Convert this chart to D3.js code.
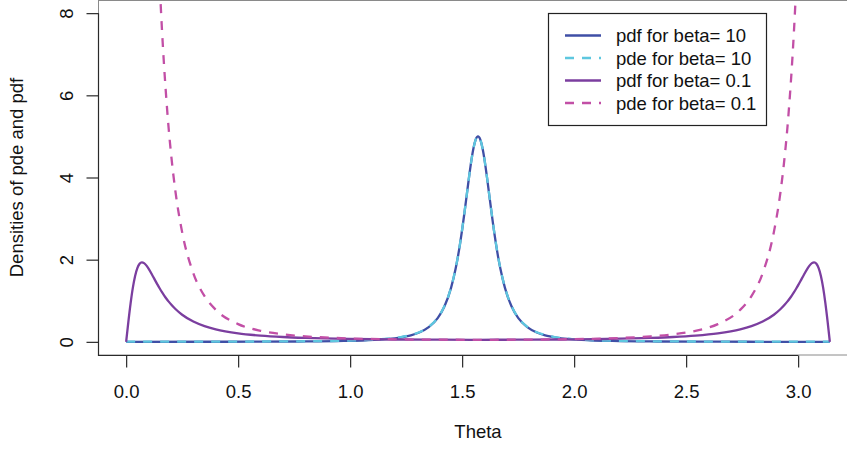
<!DOCTYPE html>
<html>
<head>
<meta charset="utf-8">
<script src="https://cdn.jsdelivr.net/npm/d3@7"></script>
<style>
  html, body { margin: 0; padding: 0; background: #fff; }
  svg { display: block; font-family: "Liberation Sans", Arial, Helvetica, sans-serif; }
</style>
</head>
<body>
<svg id="chart" width="847" height="451"></svg>
<script>
// ---- data ----
const xTicks = [0, 0.5, 1.0, 1.5, 2.0, 2.5, 3.0];
const yTicks = [0, 2, 4, 6, 8];
const seriesNames = ["pdf for beta= 10", "pde for beta= 10", "pdf for beta= 0.1", "pde for beta= 0.1"];
const seriesColors = ["#3F4FA6", "#5EC7DF", "#7B3E9F", "#C24FA6"];
const seriesDash = [null, "9,8", null, "9,8"];

// theta grid for beta = 10
const theta10 = [0, 0.3708, 0.5708, 0.7708, 0.9708, 1.0708, 1.1708, 1.2208, 1.2708, 1.3108, 1.3508, 1.3908,
  1.4208, 1.4508, 1.4708, 1.4808, 1.4908, 1.5008, 1.5108, 1.5208, 1.5308, 1.5408, 1.5508, 1.5608, 1.5708,
  1.5808, 1.5908, 1.6008, 1.6108, 1.6208, 1.6308, 1.6408, 1.6508, 1.6608, 1.6708, 1.6908, 1.7208, 1.7508,
  1.7908, 1.8308, 1.8708, 1.9208, 1.9708, 2.0708, 2.1708, 2.3708, 2.5708, 2.7708, 3.1416];
const pdf10 = [0, 0.0022, 0.0045, 0.009, 0.022, 0.038, 0.072, 0.105, 0.159, 0.233, 0.357, 0.577,
  0.859, 1.320, 1.777, 2.063, 2.390, 2.758, 3.161, 3.585, 4.008, 4.397, 4.716, 4.926, 5.000,
  4.926, 4.716, 4.397, 4.008, 3.585, 3.161, 2.758, 2.390, 2.063, 1.777, 1.320, 0.859, 0.577,
  0.357, 0.233, 0.159, 0.105, 0.072, 0.038, 0.022, 0.009, 0.0045, 0.0022, 0];
const pde10 = [0.005, 0.006, 0.008, 0.013, 0.027, 0.043, 0.078, 0.111, 0.167, 0.241, 0.366, 0.586,
  0.869, 1.329, 1.786, 2.071, 2.398, 2.765, 3.167, 3.589, 4.011, 4.399, 4.717, 4.926, 5.000,
  4.926, 4.717, 4.399, 4.011, 3.589, 3.167, 2.765, 2.398, 2.071, 1.786, 1.329, 0.869, 0.586,
  0.366, 0.241, 0.167, 0.111, 0.078, 0.043, 0.027, 0.013, 0.008, 0.006, 0.005];

// theta grid for beta = 0.1
const theta01 = [0, 0.01, 0.02, 0.03, 0.04, 0.05, 0.06, 0.07, 0.08, 0.09, 0.10, 0.12, 0.13, 0.14, 0.15,
  0.16, 0.17, 0.18, 0.19, 0.20, 0.22, 0.25, 0.30, 0.35, 0.40, 0.50, 0.60, 0.70, 0.80, 1.00, 1.20, 1.40,
  1.5708,
  1.7416, 1.9416, 2.1416, 2.3416, 2.4416, 2.5416, 2.6416, 2.7416, 2.7916, 2.8416, 2.8916, 2.9216, 2.9416,
  2.9516, 2.9616, 2.9716, 2.9816, 2.9916, 3.0016, 3.0116, 3.0216, 3.0416, 3.0516, 3.0616, 3.0716, 3.0816,
  3.0916, 3.1016, 3.1116, 3.1216, 3.1316, 3.1416];
const pdf01 = [0, 0.493, 0.943, 1.320, 1.604, 1.794, 1.899, 1.934, 1.916, 1.861, 1.783, 1.591, 1.491, 1.393, 1.299,
  1.210, 1.127, 1.050, 0.979, 0.914, 0.799, 0.660, 0.493, 0.382, 0.304, 0.207, 0.152, 0.118, 0.096, 0.070, 0.057, 0.052,
  0.050,
  0.052, 0.057, 0.070, 0.096, 0.118, 0.152, 0.207, 0.304, 0.382, 0.493, 0.660, 0.799, 0.914,
  0.979, 1.050, 1.127, 1.210, 1.299, 1.393, 1.491, 1.591, 1.783, 1.861, 1.916, 1.934, 1.899,
  1.794, 1.604, 1.320, 0.943, 0.493, 0];
const pde01 = [50, 49.27, 47.17, 44.0, 40.11, 35.89, 31.67, 27.65, 23.98, 20.71, 17.86, 13.29, 11.50, 9.98, 8.69,
  7.59, 6.66, 5.87, 5.18, 4.60, 3.66, 2.67, 1.67, 1.113, 0.780, 0.432, 0.269, 0.183, 0.134, 0.083, 0.062, 0.052,
  0.050,
  0.052, 0.062, 0.083, 0.134, 0.183, 0.269, 0.432, 0.780, 1.113, 1.67, 2.67, 3.66, 4.60,
  5.18, 5.87, 6.66, 7.59, 8.69, 9.98, 11.50, 13.29, 17.86, 20.71, 23.98, 27.65, 31.67,
  35.89, 40.11, 44.0, 47.17, 49.27, 50];

// ---- drawing ----
const svg = d3.select("#chart");
const W = 847, H = 451;
const pLeft = 98, pRight = 858, pTop = 0, pBottom = 355;
const fontSize = 18.5;

const x = d3.scaleLinear().domain([-0.04 * Math.PI, 1.04 * Math.PI]).range([pLeft, pRight]);
const y = d3.scaleLinear().domain([-0.32, 8.32]).range([pBottom, pTop]);

svg.append("defs").append("clipPath").attr("id", "plotclip")
  .append("rect").attr("x", pLeft).attr("y", pTop).attr("width", W - pLeft).attr("height", pBottom - pTop);

// box
svg.append("rect").attr("x", pLeft + 0.5).attr("y", 0.5)
  .attr("width", pRight - pLeft).attr("height", pBottom - 0.5)
  .attr("fill", "none").attr("stroke", "#8a8a8a").attr("stroke-width", 1);

// curves
const line = d3.line().x(d => x(d[0])).y(d => y(d[1])).curve(d3.curveMonotoneX);
const series = [
  d3.zip(theta10, pdf10),
  d3.zip(theta10, pde10),
  d3.zip(theta01, pdf01),
  d3.zip(theta01, pde01)
];
const g = svg.append("g").attr("clip-path", "url(#plotclip)");
series.forEach((s, i) => {
  g.append("path").datum(s).attr("d", line)
    .attr("fill", "none").attr("stroke", seriesColors[i]).attr("stroke-width", 2.3)
    .attr("stroke-dasharray", seriesDash[i]).attr("stroke-linejoin", "round");
});

// axis lines (dark)
svg.append("path").attr("d", `M${pLeft + 0.5},${y(8)} V${pBottom + 0.5} H${x(3.0)}`)
  .attr("fill", "none").attr("stroke", "#2a2a2a").attr("stroke-width", 1.2);

// x axis
const xAxis = svg.append("g").attr("transform", `translate(0,${pBottom + 0.5})`)
  .call(d3.axisBottom(x).tickValues(xTicks).tickFormat(d3.format(".1f")).tickSize(12).tickPadding(17));
xAxis.select(".domain").remove();
xAxis.selectAll("line").attr("stroke", "#2a2a2a").attr("stroke-width", 1.2);
xAxis.selectAll("text").attr("font-size", fontSize).attr("font-family", null).attr("fill", "#111");

// y axis
const yAxis = svg.append("g").attr("transform", `translate(${pLeft + 0.5},0)`)
  .call(d3.axisLeft(y).tickValues(yTicks).tickFormat(d3.format("d")).tickSize(12));
yAxis.select(".domain").remove();
yAxis.selectAll("line").attr("stroke", "#2a2a2a").attr("stroke-width", 1.2);
yAxis.selectAll("text")
  .attr("font-size", fontSize).attr("font-family", null).attr("fill", "#111")
  .attr("text-anchor", "middle").attr("transform", "rotate(-90)")
  .attr("x", 0).attr("y", -26).attr("dy", null);

// axis titles
svg.append("text").attr("x", (pLeft + pRight) / 2).attr("y", 437.5)
  .attr("text-anchor", "middle").attr("font-size", fontSize).attr("fill", "#111").text("Theta");
svg.append("text").attr("transform", `translate(23,${pBottom / 2}) rotate(-90)`)
  .attr("text-anchor", "middle").attr("font-size", fontSize).attr("fill", "#111").text("Densities of pde and pdf");

// legend
const lg = svg.append("g");
lg.append("rect").attr("x", 548.5).attr("y", 13.5).attr("width", 218).attr("height", 112)
  .attr("fill", "#fff").attr("stroke", "#222").attr("stroke-width", 1.2);
seriesNames.forEach((name, i) => {
  const ry = 35.5 + i * 22.5;
  lg.append("line").attr("x1", 565).attr("x2", 601).attr("y1", ry).attr("y2", ry)
    .attr("stroke", seriesColors[i]).attr("stroke-width", 2.3).attr("stroke-dasharray", seriesDash[i]);
  lg.append("text").attr("x", 616).attr("y", ry + 6.8).attr("font-size", fontSize).attr("fill", "#111").text(name);
});
</script>
</body>
</html>
